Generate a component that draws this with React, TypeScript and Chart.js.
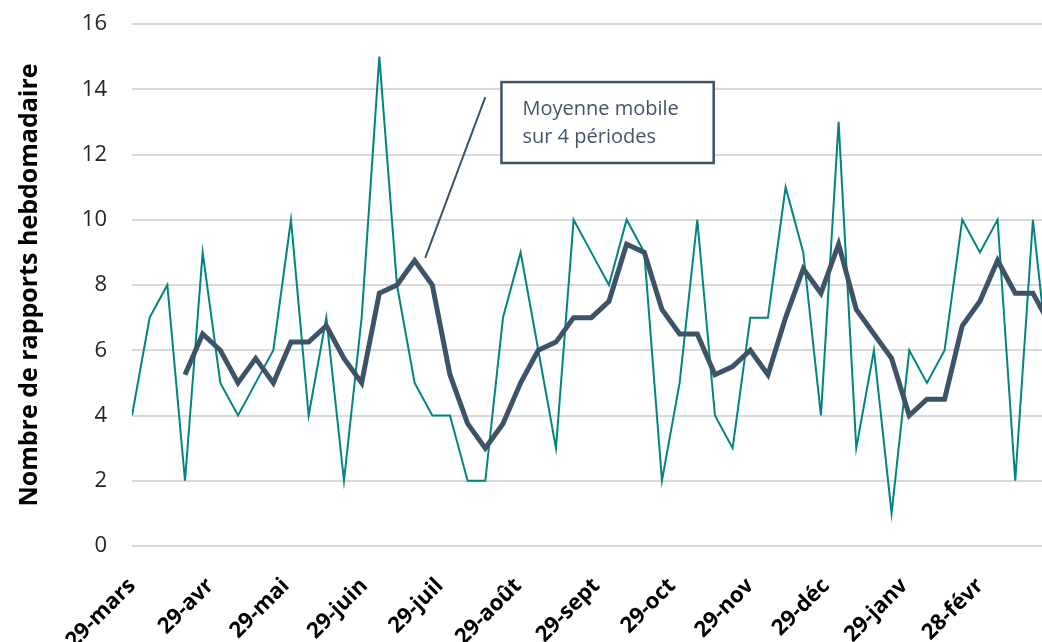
import React, { useEffect, useRef } from "react";
import { Chart, registerables } from "chart.js";

Chart.register(...registerables);

// Weekly report counts, one value per week starting 29-mars
const weeklyReports = [
  4, 7, 8, 2, 9, 5, 4, 5, 6, 10, 4, 7, 2, 7, 15, 8, 5, 4, 4, 2, 2, 7, 9, 6, 3, 10, 9, 8, 10, 9,
  2, 5, 10, 4, 3, 7, 7, 11, 9, 4, 13, 3, 6, 1, 6, 5, 6, 10, 9, 10, 2, 10, 5,
];

// 4-period moving average, starting at the 4th week
const movingAverage = [
  null, null, null,
  5.25, 6.5, 6, 5, 5.75, 5, 6.25, 6.25, 6.75, 5.75, 5, 7.75, 8, 8.75, 8, 5.25, 3.75, 3, 3.75,
  5, 6, 6.25, 7, 7, 7.5, 9.25, 9, 7.25, 6.5, 6.5, 5.25, 5.5, 6, 5.25, 7, 8.5, 7.75, 9.25, 7.25,
  6.5, 5.75, 4, 4.5, 4.5, 6.75, 7.5, 8.75, 7.75, 7.75, 6.75,
];

// Day offset (from 29-mars) of each weekly observation
const weekDays = weeklyReports.map((_, i) => i * 7);

// Monthly tick positions (day offsets) and labels
const monthTickDays = [0, 31, 61, 92, 122, 153, 184, 214, 245, 275, 306, 336];
const monthTickLabels = [
  "29-mars", "29-avr", "29-mai", "29-juin", "29-juil", "29-août",
  "29-sept", "29-oct", "29-nov", "29-déc", "29-janv", "28-févr",
];

const yTitle = "Nombre de rapports hebdomadaire";
const calloutLines = ["Moyenne mobile", "sur 4 périodes"];

const TEAL = "#00857f";
const SLATE = "#3d5468";
const FONT = "'Open Sans', 'Noto Sans', sans-serif";

const calloutPlugin = {
  id: "callout",
  afterDatasetsDraw(chart: any) {
    const { ctx, scales } = chart;
    const x = scales.x;
    const y = scales.y;
    ctx.save();
    // leader line
    ctx.strokeStyle = SLATE;
    ctx.lineWidth = 2;
    ctx.beginPath();
    ctx.moveTo(x.getPixelForValue(116.2), y.getPixelForValue(8.83));
    ctx.lineTo(x.getPixelForValue(140.0), y.getPixelForValue(13.76));
    ctx.stroke();
    // box
    const bx0 = x.getPixelForValue(146.4);
    const bx1 = x.getPixelForValue(230.5);
    const by0 = y.getPixelForValue(14.22);
    const by1 = y.getPixelForValue(11.74);
    ctx.fillStyle = "#ffffff";
    ctx.fillRect(bx0, by0, bx1 - bx0, by1 - by0);
    ctx.lineWidth = 2.5;
    ctx.strokeStyle = SLATE;
    ctx.strokeRect(bx0, by0, bx1 - bx0, by1 - by0);
    ctx.fillStyle = "#44546a";
    ctx.font = `20px ${FONT}`;
    ctx.textAlign = "left";
    ctx.textBaseline = "alphabetic";
    calloutLines.forEach((t, i) => {
      ctx.fillText(t, bx0 + 21, by0 + 33 + i * 28);
    });
    ctx.restore();
  },
};

export default function App() {
  const ref = useRef<HTMLCanvasElement | null>(null);

  useEffect(() => {
    if (!ref.current) return;
    const chart = new Chart(ref.current, {
      type: "line",
      data: {
        datasets: [
          {
            label: "Rapports hebdomadaires",
            data: weekDays.map((d, i) => ({ x: d, y: weeklyReports[i] })),
            borderColor: TEAL,
            borderWidth: 2,
            pointRadius: 0,
            tension: 0,
            order: 2,
          },
          {
            label: "Moyenne mobile sur 4 périodes",
            data: weekDays.map((d, i) => ({ x: d, y: movingAverage[i] })),
            borderColor: SLATE,
            borderWidth: 5,
            pointRadius: 0,
            tension: 0,
            borderJoinStyle: "miter",
            order: 1,
          },
        ],
      },
      options: {
        animation: false,
        responsive: false,
        layout: { padding: { top: 24, right: 0, left: 0, bottom: 0 } },
        plugins: {
          legend: { display: false },
          tooltip: { enabled: false },
        },
        scales: {
          x: {
            type: "linear",
            min: 0,
            max: 360.6,
            afterBuildTicks: (scale: any) => {
              scale.ticks = monthTickDays.map((v) => ({ value: v }));
            },
            afterFit: (scale: any) => {
              scale.height = 96;
              scale.paddingTop = 0;
              scale.paddingBottom = 0;
              scale.paddingRight = 0;
            },
            ticks: {
              autoSkip: false,
              maxRotation: 45,
              minRotation: 45,
              padding: 27,
              color: "#000000",
              font: { family: FONT, size: 22, weight: "bold" },
              callback: (value: any) => {
                const idx = monthTickDays.indexOf(Number(value));
                return idx >= 0 ? monthTickLabels[idx] : "";
              },
            },
            grid: { display: false, drawTicks: false },
            border: { display: false },
          },
          y: {
            min: 0,
            max: 16,
            afterFit: (scale: any) => {
              scale.width = 132;
              scale.paddingTop = 0;
              scale.paddingBottom = 0;
            },
            ticks: {
              stepSize: 2,
              padding: 25,
              color: "#262626",
              font: { family: FONT, size: 22 },
            },
            grid: { color: "#d9d9d9", lineWidth: 2, drawTicks: false },
            border: { display: false },
            title: {
              display: true,
              text: yTitle,
              color: "#000000",
              font: { family: FONT, size: 25, weight: "bold" },
              padding: { top: 15, bottom: 0 },
            },
          },
        },
      },
      plugins: [calloutPlugin],
    });
    return () => chart.destroy();
  }, []);

  return (
    <div
      style={{
        position: "fixed",
        left: 0,
        top: 0,
        width: 1042,
        height: 642,
        overflow: "hidden",
        background: "#ffffff",
      }}
    >
      <canvas ref={ref} width={1042} height={642} style={{ display: "block" }} />
    </div>
  );
}
